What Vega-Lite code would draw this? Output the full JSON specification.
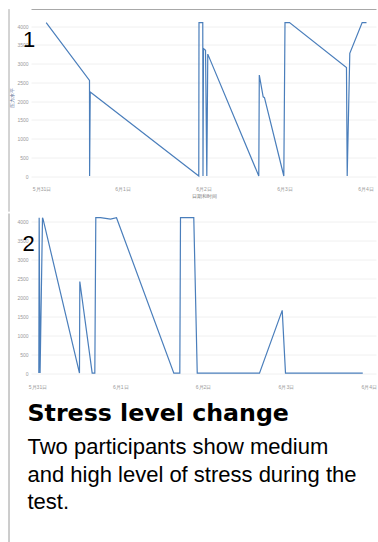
{
  "$schema": "https://vega.github.io/schema/vega-lite/v6.json",
  "background": "white",
  "padding": {"left": 8, "top": 8.5, "right": 0, "bottom": 0},
  "spacing": 0,
  "config": {
    "font": "Liberation Sans",
    "view": {"stroke": null},
    "axis": {
      "labelFont": "Liberation Sans",
      "labelFontSize": 5,
      "labelColor": "#9a9a9a",
      "labelOverlap": false,
      "domain": false,
      "ticks": false,
      "gridColor": "#ececec",
      "gridWidth": 0.8
    }
  },
  "datasets": {
    "p1": [
      {"time": "2017-05-31T01:23", "value": 4090},
      {"time": "2017-05-31T14:13", "value": 2550},
      {"time": "2017-05-31T14:15", "value": 0},
      {"time": "2017-05-31T14:26", "value": 2240},
      {"time": "2017-06-01T22:36", "value": 0},
      {"time": "2017-06-01T22:40", "value": 4090},
      {"time": "2017-06-01T23:47", "value": 4090},
      {"time": "2017-06-01T23:51", "value": 0},
      {"time": "2017-06-02T00:00", "value": 3400},
      {"time": "2017-06-02T00:36", "value": 3350},
      {"time": "2017-06-02T00:59", "value": 0},
      {"time": "2017-06-02T01:16", "value": 3250},
      {"time": "2017-06-02T16:23", "value": 0},
      {"time": "2017-06-02T16:32", "value": 2690},
      {"time": "2017-06-02T17:41", "value": 2110},
      {"time": "2017-06-02T18:04", "value": 2090},
      {"time": "2017-06-02T23:48", "value": 0},
      {"time": "2017-06-03T00:09", "value": 4090},
      {"time": "2017-06-03T01:29", "value": 4090},
      {"time": "2017-06-03T18:22", "value": 2890},
      {"time": "2017-06-03T18:35", "value": 0},
      {"time": "2017-06-03T19:21", "value": 3270},
      {"time": "2017-06-03T23:01", "value": 4090},
      {"time": "2017-06-04T00:18", "value": 4090}
    ],
    "p2": [
      {"time": "2017-05-31T00:23", "value": 0},
      {"time": "2017-05-31T00:29", "value": 4090},
      {"time": "2017-05-31T00:45", "value": 0},
      {"time": "2017-05-31T01:27", "value": 4090},
      {"time": "2017-05-31T01:36", "value": 4060},
      {"time": "2017-05-31T12:10", "value": 0},
      {"time": "2017-05-31T12:16", "value": 2410},
      {"time": "2017-05-31T15:51", "value": 0},
      {"time": "2017-05-31T16:37", "value": 0},
      {"time": "2017-05-31T16:54", "value": 4090},
      {"time": "2017-05-31T18:16", "value": 4090},
      {"time": "2017-05-31T21:10", "value": 4050},
      {"time": "2017-05-31T22:54", "value": 4090},
      {"time": "2017-06-01T15:31", "value": 0},
      {"time": "2017-06-01T17:15", "value": 0},
      {"time": "2017-06-01T17:27", "value": 4090},
      {"time": "2017-06-01T21:18", "value": 4090},
      {"time": "2017-06-01T22:18", "value": 0},
      {"time": "2017-06-02T16:21", "value": 0},
      {"time": "2017-06-02T22:56", "value": 1650},
      {"time": "2017-06-02T23:53", "value": 0},
      {"time": "2017-06-03T22:17", "value": 0}
    ]
  },
  "title": {
    "text": "Stress level change",
    "subtitle": ["Two participants show medium", "and high level of stress during the", "test."],
    "orient": "bottom",
    "anchor": "start",
    "frame": "bounds",
    "font": "DejaVu Sans",
    "fontSize": 23.7,
    "fontWeight": "bold",
    "color": "#000000",
    "subtitleFont": "Liberation Sans",
    "subtitleFontSize": 22,
    "subtitleColor": "#000000",
    "subtitleLineHeight": 27.2,
    "subtitlePadding": 12,
    "offset": -141,
    "dx": 19
  },
  "vconcat": [
    {
      "width": 345,
      "height": 157.5,
      "resolve": {"axis": {"x": "independent", "y": "independent"}},
      "layer": [
        {
          "data": {"name": "p1"},
          "mark": {"type": "line", "color": "#4a7ebb", "strokeWidth": 1.2},
          "encoding": {
            "x": {
              "field": "time",
              "type": "temporal",
              "scale": {"domain": [
                {"year": 2017, "month": 5, "date": 30, "hours": 20, "minutes": 53},
                {"year": 2017, "month": 6, "date": 4, "hours": 3, "minutes": 7}
              ]},
              "axis": {
                "format": "%-m月%-d日",
                "tickCount": {"interval": "day", "step": 1},
                "grid": false,
                "labelPadding": 10,
                "title": "日期和时间",
                "titleFontSize": 4.5,
                "titleFontWeight": "normal",
                "titleColor": "#777777",
                "titlePadding": 2
              }
            },
            "y": {
              "field": "value",
              "type": "quantitative",
              "scale": {"domain": [0, 4200], "nice": false},
              "axis": {
                "values": [0, 500, 1000, 1500, 2000, 2500, 3000, 3500, 4000],
                "format": "d",
                "labelPadding": 3,
                "title": "压力水平",
                "titleFontSize": 4.5,
                "titleFontWeight": "normal",
                "titleColor": "#55698f",
                "titlePadding": 2
              }
            }
          }
        },
        {
          "data": {"values": [{}]},
          "mark": {"type": "text", "text": "1", "fontSize": 22, "font": "Liberation Sans", "color": "#000000", "align": "center", "baseline": "middle", "dx": -2},
          "encoding": {
            "x": {
              "datum": {"year": 2017, "month": 5, "date": 30, "hours": 20, "minutes": 53},
              "type": "temporal",
              "axis": {"orient": "top", "labels": false, "grid": false, "ticks": false, "domain": true, "domainColor": "#a8a8a8", "domainWidth": 1, "offset": 9.5, "title": null}
            },
            "y": {"datum": 3627, "type": "quantitative", "axis": null}
          }
        },
        {
          "data": {"values": [{}]},
          "mark": {"type": "rule", "color": "#a8a8a8", "strokeWidth": 1, "xOffset": -22},
          "encoding": {
            "x": {"datum": {"year": 2017, "month": 5, "date": 30, "hours": 20, "minutes": 53}, "type": "temporal", "axis": null},
            "y": {"datum": 4450, "type": "quantitative", "axis": null},
            "y2": {"datum": -950}
          }
        }
      ]
    },
    {
      "width": 345,
      "height": 159.6,
      "resolve": {"axis": {"x": "independent", "y": "independent"}},
      "layer": [
        {
          "data": {"name": "p2"},
          "mark": {"type": "line", "color": "#4a7ebb", "strokeWidth": 1.2},
          "encoding": {
            "x": {
              "field": "time",
              "type": "temporal",
              "scale": {"domain": [
                {"year": 2017, "month": 5, "date": 30, "hours": 22, "minutes": 7},
                {"year": 2017, "month": 6, "date": 4, "hours": 2, "minutes": 7}
              ]},
              "axis": {
                "format": "%-m月%-d日",
                "tickCount": {"interval": "day", "step": 1},
                "grid": false,
                "labelPadding": 11,
                "title": null
              }
            },
            "y": {
              "field": "value",
              "type": "quantitative",
              "scale": {"domain": [0, 4200], "nice": false},
              "axis": {
                "values": [0, 500, 1000, 1500, 2000, 2500, 3000, 3500, 4000],
                "format": "d",
                "labelPadding": 3,
                "title": null
              }
            }
          }
        },
        {
          "data": {"values": [{}]},
          "mark": {"type": "text", "text": "2", "fontSize": 22, "font": "Liberation Sans", "color": "#000000", "align": "center", "baseline": "middle", "dx": -2.5},
          "encoding": {
            "x": {"datum": {"year": 2017, "month": 5, "date": 30, "hours": 22, "minutes": 7}, "type": "temporal", "axis": null},
            "y": {"datum": 3395, "type": "quantitative", "axis": null}
          }
        },
        {
          "data": {"values": [{}]},
          "mark": {"type": "rule", "color": "#9a9a9a", "strokeWidth": 1, "xOffset": -22},
          "encoding": {
            "x": {"datum": {"year": 2017, "month": 5, "date": 30, "hours": 22, "minutes": 7}, "type": "temporal", "axis": null},
            "y": {"datum": 4200, "type": "quantitative", "axis": null},
            "y2": {"datum": -4450}
          }
        }
      ]
    }
  ]
}
